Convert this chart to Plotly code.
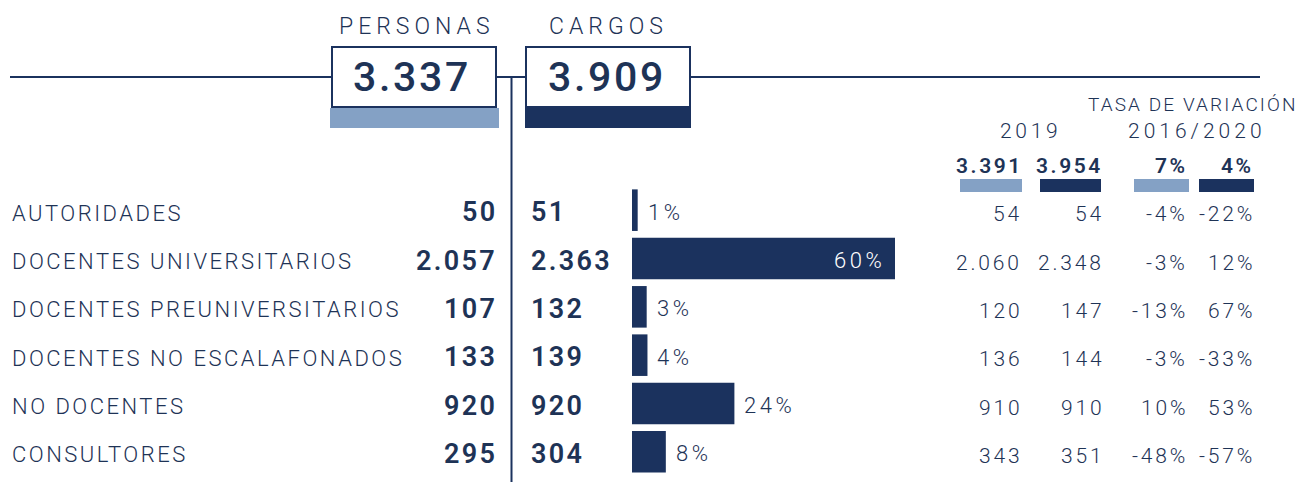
import plotly.graph_objects as go

# ---- data ----
categorias = ["AUTORIDADES", "DOCENTES UNIVERSITARIOS", "DOCENTES PREUNIVERSITARIOS",
              "DOCENTES NO ESCALAFONADOS", "NO DOCENTES", "CONSULTORES"]
personas_2020 = [50, 2057, 107, 133, 920, 295]
cargos_2020 = [51, 2363, 132, 139, 920, 304]
personas_2019 = [54, 2060, 120, 136, 910, 343]
cargos_2019 = [54, 2348, 147, 144, 910, 351]
var_personas = [-4, -3, -13, -3, 10, -48]
var_cargos = [-22, 12, 67, -33, 53, -57]

total_personas = 3337
total_cargos = 3909
total_personas_2019 = 3391
total_cargos_2019 = 3954
total_var_personas = 7
total_var_cargos = 4

NAVY = "#1b325e"
LIGHT = "#84a1c5"
TEXT = "#1e3356"
FONT = "Roboto"

W, H = 1304, 482


def X(px):
    return px / W


def Y(py):
    return 1 - py / H


def miles(v):
    return f"{v:,}".replace(",", ".")


share = [c / total_cargos * 100 for c in cargos_2020]
idx = list(range(len(categorias)))

fig = go.Figure()
fig.add_trace(go.Bar(
    x=share, y=idx, orientation="h", width=0.86,
    marker=dict(color=NAVY, line=dict(width=0)),
    hoverinfo="skip", showlegend=False,
))

ann = []


def text(x, y, s, size, anchor="left", weight=400, ls=0.0, color=TEXT,
         xref="paper", yref="paper", xshift=0, yshift=0):
    # letter-spacing leaves a trailing gap after the last glyph; compensate it
    if anchor == "right":
        xshift += ls
    elif anchor == "center":
        xshift += ls / 2
    body = f'<span style="letter-spacing:{ls}px">{s}</span>' if ls else s
    ann.append(dict(x=x, y=y, xref=xref, yref=yref, text=body, showarrow=False,
                    xanchor=anchor, yanchor="middle", xshift=xshift, yshift=yshift,
                    font=dict(family=FONT, size=size, color=color, weight=weight)))


# headers
text(X(414), Y(26), "PERSONAS", 23, "center", 300, ls=5)
text(X(606), Y(26), "CARGOS", 23, "center", 300, ls=5)
text(X(411), Y(77), miles(total_personas), 41, "center", 500, ls=2.7)
text(X(606), Y(77), miles(total_cargos), 41, "center", 500, ls=2.7)

text(X(1298), Y(104), "TASA DE VARIACIÓN", 19, "right", 300, ls=2.1)
text(X(1029), Y(131), "2019", 21, "center", 300, ls=3.7)
text(X(1195), Y(131), "2016/2020", 21, "center", 300, ls=4)

text(X(1022), Y(166), miles(total_personas_2019), 21, "right", 600, ls=2.6)
text(X(1102), Y(166), miles(total_cargos_2019), 21, "right", 600, ls=2.6)
text(X(1187), Y(166), f"{total_var_personas}%", 21, "right", 600, ls=2.6)
text(X(1253), Y(166), f"{total_var_cargos}%", 21, "right", 600, ls=2.6)

for i in idx:
    text(X(10), i, categorias[i], 22, "left", 300, ls=2.5, yref="y", yshift=-3)
    text(X(497), i, miles(personas_2020[i]), 27, "right", 600, ls=2.3, yref="y", yshift=-2)
    text(X(529), i, miles(cargos_2020[i]), 27, "left", 600, ls=2.3, yref="y", yshift=-2)
    text(X(1021), i, miles(personas_2019[i]), 21, "right", 300, ls=2.8, yref="y", yshift=-4)
    text(X(1103), i, miles(cargos_2019[i]), 21, "right", 300, ls=2.8, yref="y", yshift=-4)
    text(X(1187), i, f"{var_personas[i]}%", 21, "right", 300, ls=2.8, yref="y", yshift=-4)
    text(X(1254), i, f"{var_cargos[i]}%", 21, "right", 300, ls=2.8, yref="y", yshift=-4)
    lab = f"{share[i]:.0f}%"
    if share[i] > 40:
        text(share[i], i, lab, 22, "right", 300, ls=3.6, color="white",
             xref="x", yref="y", xshift=-12, yshift=-2)
    else:
        text(share[i], i, lab, 22, "left", 300, ls=3.6, xref="x", yref="y",
             xshift=8, yshift=-2)

shapes = [
    dict(type="line", xref="paper", yref="paper", x0=X(10), x1=X(1260), y0=Y(77), y1=Y(77),
         line=dict(color=NAVY, width=2)),
    dict(type="line", xref="paper", yref="paper", x0=X(511.5), x1=X(511.5), y0=Y(77), y1=Y(482),
         line=dict(color=NAVY, width=2)),
    dict(type="rect", xref="paper", yref="paper", x0=X(332), x1=X(496), y0=Y(47), y1=Y(107),
         fillcolor="white", line=dict(color=NAVY, width=2)),
    dict(type="rect", xref="paper", yref="paper", x0=X(330), x1=X(499), y0=Y(108), y1=Y(128),
         fillcolor=LIGHT, line=dict(width=0)),
    dict(type="rect", xref="paper", yref="paper", x0=X(526), x1=X(690), y0=Y(47), y1=Y(107),
         fillcolor="white", line=dict(color=NAVY, width=2)),
    dict(type="rect", xref="paper", yref="paper", x0=X(525), x1=X(691), y0=Y(107), y1=Y(128),
         fillcolor=NAVY, line=dict(width=0)),
]
for x0, x1, c in [(960, 1022, LIGHT), (1040, 1101, NAVY), (1134, 1189, LIGHT), (1199, 1254, NAVY)]:
    shapes.append(dict(type="rect", xref="paper", yref="paper", x0=X(x0), x1=X(x1),
                       y0=Y(179), y1=Y(192), fillcolor=c, line=dict(width=0)))

fig.update_layout(
    width=W, height=H, margin=dict(l=0, r=0, t=0, b=0),
    paper_bgcolor="white", plot_bgcolor="white",
    xaxis=dict(domain=[X(632), X(895)], range=[0, max(share)], visible=False, fixedrange=True),
    yaxis=dict(domain=[Y(476), Y(186)], range=[5.5, -0.5], visible=False, fixedrange=True),
    shapes=shapes, annotations=ann, showlegend=False,
)

fig.write_html("out.html", config={"displayModeBar": False})
